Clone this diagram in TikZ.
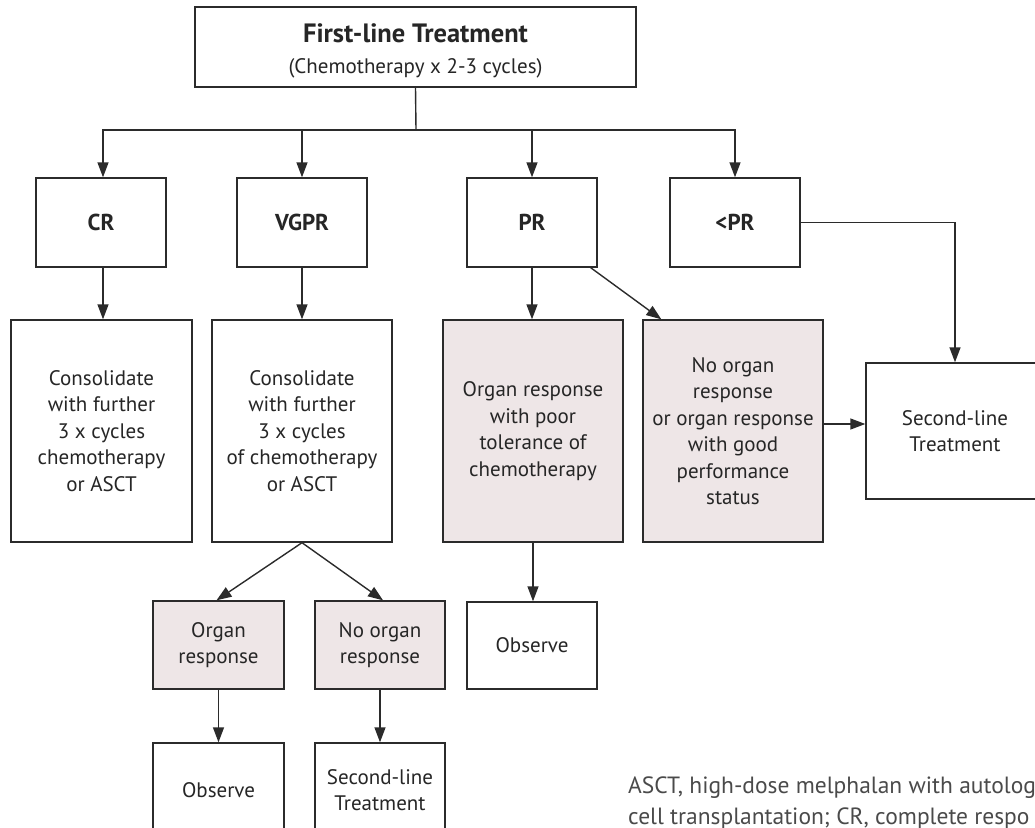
\documentclass[tikz,border=0pt]{standalone}
\usepackage{fontspec}
\setmainfont{PT Sans}
\usetikzlibrary{arrows.meta}
\definecolor{linec}{HTML}{2B2B2B}
\definecolor{pinkfill}{HTML}{EEE6E7}
\definecolor{notec}{HTML}{4A4A4A}
\tikzset{
  box/.style={draw=linec, line width=1.4pt, fill=white, inner sep=0pt, align=center,
    font=\fontsize{21}{26.5}\selectfont, text=black!85},
  pbox/.style={box, fill=pinkfill},
  lbl/.style={box, font=\fontsize{23}{26}\bfseries\selectfont},
  arr/.style={draw=linec, line width=1.4pt, -{Triangle[length=15pt,width=11pt]}},
  ln/.style={draw=linec, line width=1.4pt},
}
\begin{document}
\begin{tikzpicture}[x=1pt,y=-1pt]
\useasboundingbox (0,0) rectangle (1035,827);
\clip (0,0) rectangle (1035,827);
% top
\node[box, minimum width=441pt, minimum height=80pt] (top) at (415.5,47)
  {{\fontsize{26.5}{30}\bfseries\selectfont\rule{0pt}{27pt}First-line Treatment}\\[4pt](Chemotherapy x 2-3 cycles)};
\coordinate (bus) at (416,130);
% level 1
\node[lbl, minimum width=130pt, minimum height=89pt] (cr) at (101,222.5) {CR};
\node[lbl, minimum width=130pt, minimum height=89pt] (vgpr) at (302,222.5) {VGPR};
\node[lbl, minimum width=130pt, minimum height=89pt] (pr) at (532,222.5) {PR};
\node[lbl, minimum width=130pt, minimum height=89pt] (lpr) at (735,222.5) {<PR};
% level 2
\node[box, minimum width=181pt, minimum height=222pt] (c1) at (101.5,431)
  {Consolidate\\with further\\3 x cycles\\chemotherapy\\or ASCT};
\node[box, minimum width=180pt, minimum height=222pt] (c2) at (302,431)
  {Consolidate\\with further\\3 x cycles\\of chemotherapy\\or ASCT};
\node[pbox, minimum width=180pt, minimum height=222pt] (poor) at (533,431)
  {Organ response\\with poor\\tolerance of\\chemotherapy};
\node[pbox, minimum width=180pt, minimum height=222pt] (noorg) at (733,431)
  {No organ\\response\\or organ response\\with good\\performance\\status};
\node[box, minimum width=178pt, minimum height=136pt] (sl) at (955,431)
  {Second-line\\Treatment};
% level 3
\node[pbox, minimum width=131pt, minimum height=88pt] (or) at (218.5,645) {Organ\\response};
\node[pbox, minimum width=130pt, minimum height=88pt] (nor) at (380,645) {No organ\\response};
\node[box, minimum width=130pt, minimum height=87pt] (obs2) at (532,645.5) {Observe};
% level 4
\node[box, minimum width=131pt, minimum height=94pt] (obs1) at (218.5,790) {Observe};
\node[box, minimum width=130pt, minimum height=94pt] (sl2) at (380,790) {Second-line\\Treatment};
% connectors
\draw[ln] (top.south) -- (bus);
\draw[arr] (bus) -| ([xshift=2pt]cr.north);
\draw[arr] (bus) -| (vgpr.north);
\draw[arr] (bus) -| (pr.north);
\draw[arr] (bus) -| (lpr.north);
\draw[arr] ([xshift=2pt]cr.south) -- ([xshift=2pt]cr.south |- c1.north);
\draw[arr] (vgpr.south) -- (c2.north);
\draw[arr] (pr.south) -- (pr.south |- poor.north);
\draw[arr] ([xshift=-7pt]pr.south east) -- ([xshift=19pt]noorg.north west);
\draw[arr] (lpr.east) -| (sl.north);
\draw[arr] ([yshift=7pt]noorg.east) -- ([yshift=7pt]sl.west);
\draw[arr] (c2.south) -- ([xshift=-2pt]or.north);
\draw[arr] (c2.south) -- ([xshift=3pt]nor.north);
\draw[arr] (or.south) -- (obs1.north);
\draw[arr] (nor.south) -- (sl2.north);
\draw[arr] (poor.south) -- (poor.south |- obs2.north);
% note
\node[anchor=base west, inner sep=0pt, text=notec, font=\fontsize{23.5}{28}\selectfont] (note1) at (628,793)
  {ASCT, high-dose melphalan with autolog};
\node[anchor=base west, inner sep=0pt, text=notec, font=\fontsize{23.5}{28}\selectfont] (note2) at (628,824)
  {cell transplantation; CR, complete respo};
\end{tikzpicture}
\end{document}
